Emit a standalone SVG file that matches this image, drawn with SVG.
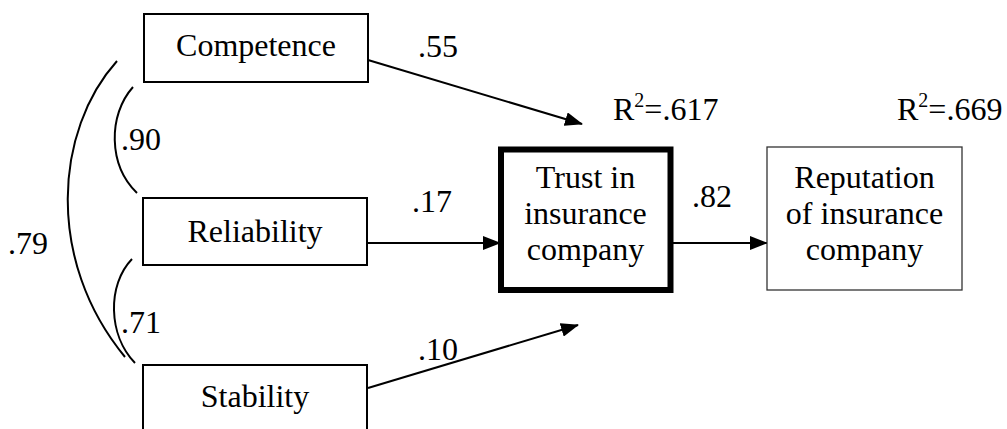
<svg xmlns="http://www.w3.org/2000/svg" width="1007" height="429" viewBox="0 0 1007 429">
  <defs>
    <marker id="head" viewBox="0 0 18 14" refX="17" refY="7" markerWidth="18" markerHeight="14" markerUnits="userSpaceOnUse" orient="auto">
      <path d="M0,0 L18,7 L0,14 Z" fill="#000"/>
    </marker>
  </defs>
  <rect width="1007" height="429" fill="#fff"/>

  <!-- connectors: correlations (curves) and regression paths (arrows) -->
  <g id="connectors" fill="none" stroke="#000" stroke-width="2">
    <path d="M133,87 C108,115 108,165 137,193"/>
    <path d="M117,61 C55,130 45,260 125,357"/>
    <path d="M132,259 C107,285 108,335 135,363"/>
    <path d="M368,60 L582,124" marker-end="url(#head)"/>
    <path d="M368,243 L500,243" marker-end="url(#head)"/>
    <path d="M368,388 L578,325" marker-end="url(#head)"/>
    <path d="M673,243 L767,243" marker-end="url(#head)"/>
  </g>

  <!-- coefficients -->
  <g id="labels" font-family="Liberation Serif" font-size="32" fill="#000">
    <text x="418" y="57">.55</text>
    <text x="121" y="150">.90</text>
    <text x="412" y="212">.17</text>
    <text x="8" y="254">.79</text>
    <text x="121" y="333">.71</text>
    <text x="418" y="360">.10</text>
    <text x="692" y="207">.82</text>
    <text x="613" y="120">R<tspan font-size="20" dy="-13">2</tspan><tspan dy="13">=.617</tspan></text>
    <text x="897" y="120">R<tspan font-size="20" dy="-13">2</tspan><tspan dy="13">=.669</tspan></text>
  </g>

  <g id="competence">
    <rect x="144" y="14" width="224" height="68" fill="#fff" stroke="#000" stroke-width="2"/>
    <text x="256" y="56" text-anchor="middle" font-family="Liberation Serif" font-size="32">Competence</text>
  </g>
  <g id="reliability">
    <rect x="143" y="198" width="224" height="67" fill="#fff" stroke="#000" stroke-width="2"/>
    <text x="255" y="242" text-anchor="middle" font-family="Liberation Serif" font-size="32">Reliability</text>
  </g>
  <g id="stability">
    <rect x="143" y="365" width="224" height="80" fill="#fff" stroke="#000" stroke-width="2"/>
    <text x="255" y="407" text-anchor="middle" font-family="Liberation Serif" font-size="32">Stability</text>
  </g>
  <g id="trust">
    <rect x="501" y="149.5" width="169.5" height="140.5" fill="#fff" stroke="#000" stroke-width="6"/>
    <text x="585.5" y="188" text-anchor="middle" font-family="Liberation Serif" font-size="32">Trust in</text>
    <text x="585.5" y="224" text-anchor="middle" font-family="Liberation Serif" font-size="32">insurance</text>
    <text x="585.5" y="260" text-anchor="middle" font-family="Liberation Serif" font-size="32">company</text>
  </g>
  <g id="reputation">
    <rect x="767" y="147" width="195" height="143" fill="#fff" stroke="#333" stroke-width="1.3"/>
    <text x="864.5" y="188" text-anchor="middle" font-family="Liberation Serif" font-size="32">Reputation</text>
    <text x="864.5" y="224" text-anchor="middle" font-family="Liberation Serif" font-size="32">of insurance</text>
    <text x="864.5" y="260" text-anchor="middle" font-family="Liberation Serif" font-size="32">company</text>
  </g>
</svg>
